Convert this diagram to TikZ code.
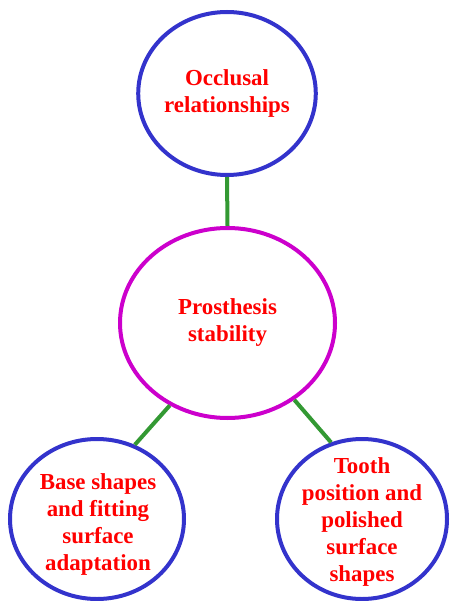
\documentclass[tikz,border=0pt]{standalone}
\usepackage{fontspec}
\setmainfont{Liberation Serif}
\usetikzlibrary{shapes.geometric}
\definecolor{cblue}{RGB}{51,51,204}
\definecolor{cmag}{RGB}{204,0,204}
\definecolor{cgreen}{RGB}{51,153,51}
\definecolor{cred}{RGB}{255,0,0}
\tikzset{
  bubble/.style={ellipse, draw=cblue, line width=4pt, inner sep=0pt, align=center,
    text=cred, font=\fontsize{22.9}{27}\selectfont\bfseries},
  hub/.style={bubble, draw=cmag},
  link/.style={draw=cgreen, line width=4pt}
}
\begin{document}
\begin{tikzpicture}[x=1pt,y=-1pt]
\useasboundingbox (0,0) rectangle (450,601);
\node[bubble, minimum width=174pt, minimum height=163pt] (top) at (227,93.5) {Occlusal\\relationships};
\node[hub, minimum width=215pt, minimum height=190pt] (mid) at (227.5,323) {Prosthesis\\stability};
\node[bubble, minimum width=174pt, minimum height=160pt] (left) at (97,519) {};
\node[bubble, minimum width=170pt, minimum height=160pt] (right) at (362,519) {};
\node[text=cred, font=\fontsize{22.9}{27}\selectfont\bfseries, align=center] (lefttext) at (98,524) {Base shapes\\and fitting\\surface\\adaptation};
\node[text=cred, font=\fontsize{22.9}{27}\selectfont\bfseries, align=center] (righttext) at (362,522) {Tooth\\position and\\polished\\surface\\shapes};
\draw[link] (top.south) -- (mid.north);
\draw[link] (mid.235.6) -- (left.63.7);
\draw[link] (mid.311.4) -- (right.112);
\end{tikzpicture}
\end{document}
